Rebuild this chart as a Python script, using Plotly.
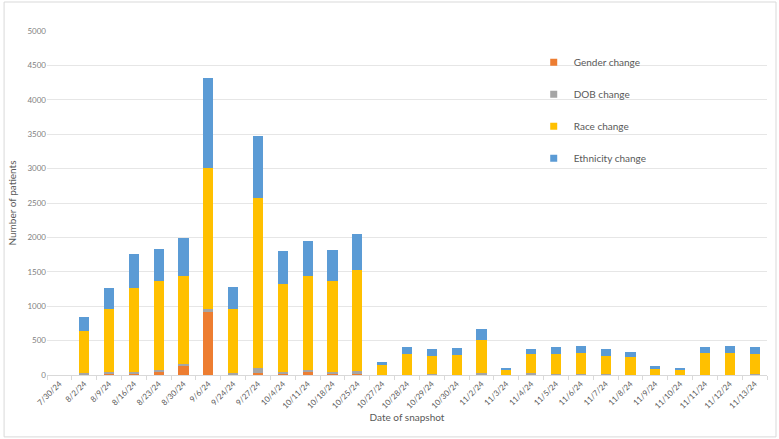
import plotly.graph_objects as go

dates = ["7/30/24", "8/2/24", "8/9/24", "8/16/24", "8/23/24", "8/30/24", "9/6/24",
         "9/24/24", "9/27/24", "10/4/24", "10/11/24", "10/18/24", "10/25/24", "10/27/24",
         "10/28/24", "10/29/24", "10/30/24", "11/2/24", "11/3/24", "11/4/24", "11/5/24",
         "11/6/24", "11/7/24", "11/8/24", "11/9/24", "11/10/24", "11/11/24", "11/12/24",
         "11/13/24"]

gender = [0, 10, 15, 10, 45, 135, 928, 10, 34, 15, 39, 15, 15, 0,
          2, 3, 2, 10, 0, 5, 3, 4, 3, 2, 0, 0, 2, 2, 3]
dob = [0, 24, 24, 35, 28, 29, 29, 19, 63, 29, 39, 34, 43, 5,
       5, 8, 5, 19, 2, 22, 8, 10, 8, 4, 2, 2, 5, 5, 10]
race = [0, 606, 914, 1222, 1291, 1282, 2056, 933, 2476, 1284, 1366, 1312, 1473, 135,
        298, 270, 279, 476, 79, 278, 294, 310, 270, 256, 98, 79, 307, 312, 297]
ethnicity = [0, 201, 314, 488, 474, 546, 1297, 319, 901, 474, 504, 451, 514, 52,
             100, 95, 104, 162, 24, 76, 100, 95, 90, 76, 24, 24, 91, 105, 90]

series = [
    ("Gender change", gender, "#ED7D31"),
    ("DOB change", dob, "#A5A5A5"),
    ("Race change", race, "#FFC000"),
    ("Ethnicity change", ethnicity, "#5B9BD5"),
]

fig = go.Figure()
for name, vals, color in series:
    fig.add_trace(go.Bar(x=dates, y=vals, name=name, marker_color=color,
                         marker_line_width=0, showlegend=False))
for name, vals, color in series:
    fig.add_trace(go.Scatter(x=[None], y=[None], mode="markers", name=name,
                             legendgroup=name,
                             marker=dict(symbol="square", size=7, color=color)))

font = "Lato, 'Open Sans', sans-serif"
fig.update_layout(
    width=779, height=439,
    barmode="stack", bargap=0.59,
    plot_bgcolor="white", paper_bgcolor="white",
    margin=dict(l=45, r=12, t=31, b=64),
    font=dict(family=font, color="#595959", size=9),
    showlegend=True,
    legend=dict(x=0.676, y=0.951, xanchor="left", yanchor="top",
                traceorder="grouped", tracegroupgap=13,
                font=dict(size=10, color="#595959"), bgcolor="rgba(0,0,0,0)"),
    xaxis=dict(title=dict(text="Date of snapshot", font=dict(size=10), standoff=4),
               tickangle=-45, tickfont=dict(size=8),
               showline=True, linecolor="#D9D9D9", linewidth=1,
               ticks="outside", tickson="boundaries", ticklen=4, tickcolor="#D9D9D9",
               showgrid=False),
    yaxis=dict(title=dict(text="Number of patients", font=dict(size=10), standoff=8),
               range=[0, 5000], dtick=500, tickfont=dict(size=8, color="#7F7F7F"),
               gridcolor="#E6E6E6", gridwidth=1, zeroline=False,
               showline=False, ticks=""),
    shapes=[dict(type="rect", xref="paper", yref="paper",
                 x0=-0.0596, x1=1.0125, y0=-0.180, y1=1.0843,
                 line=dict(color="#D9D9D9", width=1))],
)

fig.write_html("out.html")
